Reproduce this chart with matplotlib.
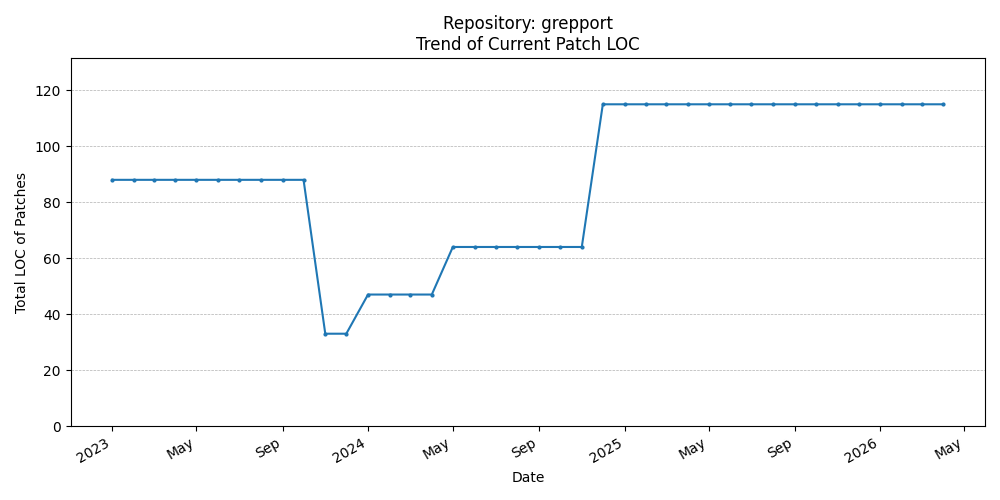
import matplotlib
matplotlib.use("Agg")
import matplotlib.pyplot as plt
import matplotlib.dates as mdates
import pandas as pd

dates = pd.date_range("2023-01-01", "2026-04-01", freq="MS")
loc = [88, 88, 88, 88, 88, 88, 88, 88, 88, 88,
       33, 33,
       47, 47, 47, 47,
       64, 64, 64, 64, 64, 64, 64,
       115, 115, 115, 115, 115, 115, 115, 115, 115, 115, 115, 115, 115, 115, 115, 115, 115]

fig, ax = plt.subplots(figsize=(10, 5), dpi=100)
ax.plot(dates, loc, marker="o", markersize=2)
ax.set_title("Repository: grepport\nTrend of Current Patch LOC")
ax.set_xlabel("Date")
ax.set_ylabel("Total LOC of Patches")
ax.set_ylim(0, 131.5)
ax.grid(axis="y", linestyle="--", linewidth=0.5)

locator = mdates.AutoDateLocator()
ax.xaxis.set_major_locator(locator)
ax.xaxis.set_major_formatter(mdates.ConciseDateFormatter(locator))
fig.autofmt_xdate()

fig.tight_layout()
fig.savefig("out.png")
